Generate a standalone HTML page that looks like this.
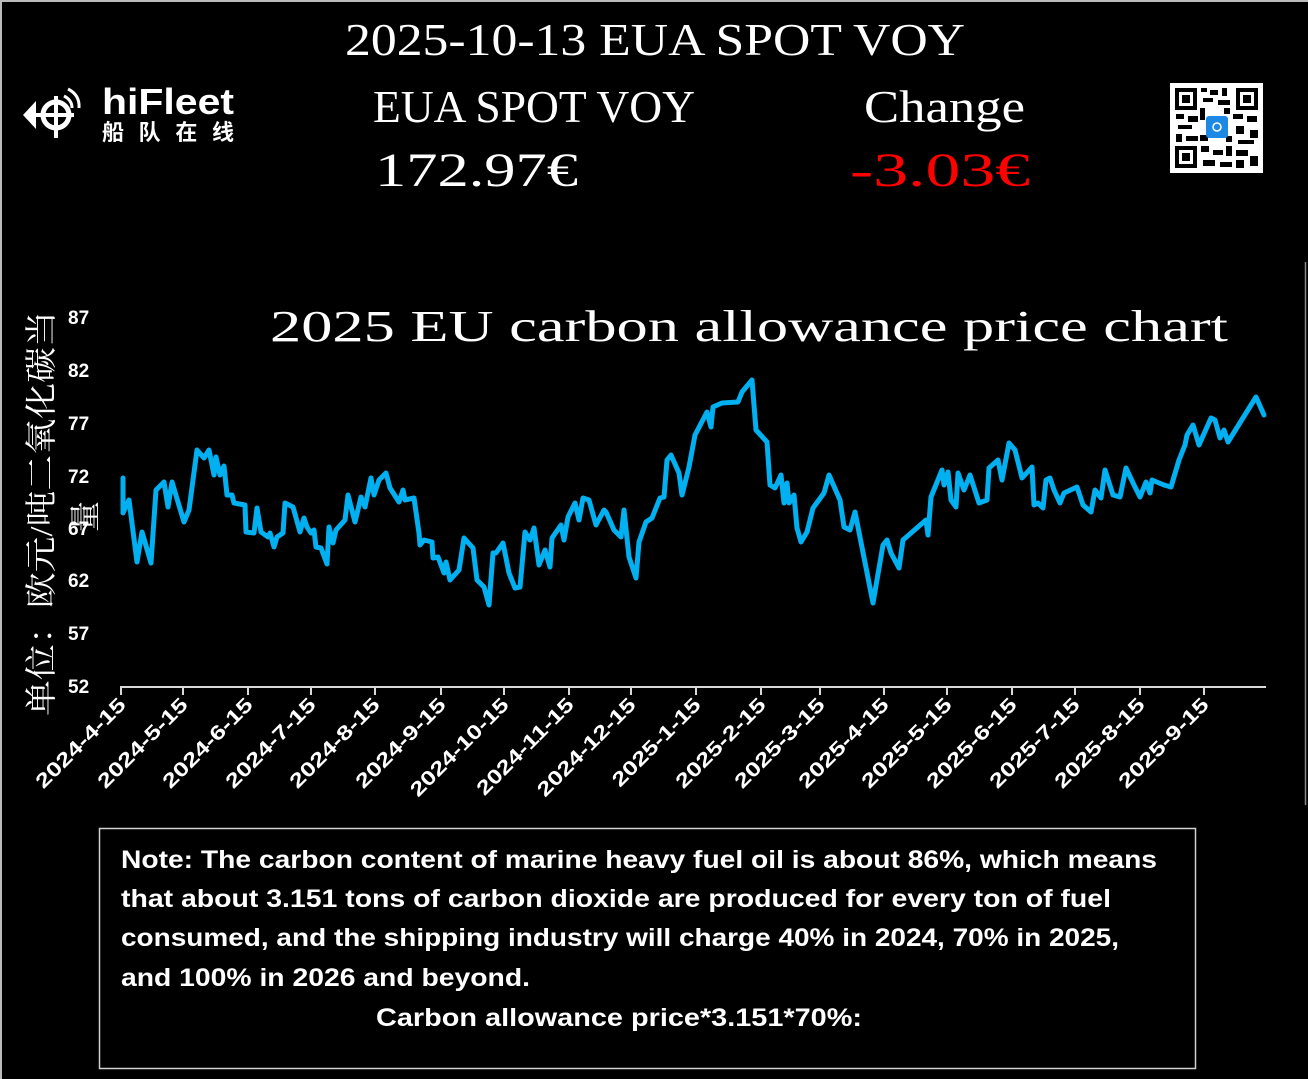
<!DOCTYPE html>
<html><head><meta charset="utf-8">
<style>
html,body{margin:0;padding:0;background:#000;}
svg{display:block;}
</style></head>
<body>
<svg width="1308" height="1079" viewBox="0 0 1308 1079" xmlns="http://www.w3.org/2000/svg">
<rect x="0" y="0" width="1308" height="1079" fill="#000"/>
<line x1="1" y1="0" x2="1" y2="1079" stroke="#bbb" stroke-width="2"/>
<line x1="0" y1="1" x2="1308" y2="1" stroke="#bbb" stroke-width="2"/>
<line x1="1305.5" y1="262" x2="1305.5" y2="805" stroke="#888" stroke-width="1.5"/>

<g font-family="'Liberation Serif','Noto Serif CJK SC',serif" fill="#fff">
<text x="345" y="55" font-size="46" textLength="620" lengthAdjust="spacingAndGlyphs">2025-10-13 EUA SPOT VOY</text>
<text x="373" y="122" font-size="46" textLength="322" lengthAdjust="spacingAndGlyphs">EUA SPOT VOY</text>
<text x="864" y="122" font-size="46" textLength="161" lengthAdjust="spacingAndGlyphs">Change</text>
<text x="375" y="186" font-size="48" textLength="203" lengthAdjust="spacingAndGlyphs">172.97€</text>
<text x="850" y="186" font-size="48" fill="#ff0000" textLength="180" lengthAdjust="spacingAndGlyphs">-3.03€</text>
<text x="270" y="341" font-size="44" textLength="958" lengthAdjust="spacingAndGlyphs">2025 EU carbon allowance price chart</text>
</g>

<g fill="#fff" stroke="#fff">
<circle cx="56" cy="115" r="13" fill="none" stroke-width="5"/>
<line x1="56" y1="96" x2="56" y2="138" stroke-width="4"/>
<line x1="36" y1="115" x2="74" y2="115" stroke-width="4"/>
<path d="M23 115 L36 101 L36 129 Z" stroke="none"/>
<path d="M64 96 Q72 100 72 108" fill="none" stroke-width="3"/>
<path d="M68 89 Q80 95 79 108" fill="none" stroke-width="3"/>
</g>
<text x="102" y="114" font-family="'Liberation Sans',sans-serif" font-weight="bold" font-size="36" fill="#fff" textLength="132" lengthAdjust="spacingAndGlyphs">hiFleet</text>
<text x="102" y="140" font-family="'Liberation Sans','Noto Sans CJK SC',sans-serif" font-weight="bold" font-size="22" fill="#fff" textLength="132" lengthAdjust="spacing">船队在线</text>

<rect x="1170" y="83" width="93" height="90" fill="#fff"/>
<g fill="#000">
<rect x="1175" y="88" width="22" height="22"/><rect x="1179" y="92" width="14" height="14" fill="#fff"/><rect x="1182" y="95" width="8" height="8"/>
<rect x="1236" y="88" width="22" height="22"/><rect x="1240" y="92" width="14" height="14" fill="#fff"/><rect x="1243" y="95" width="8" height="8"/>
<rect x="1175" y="146" width="22" height="22"/><rect x="1179" y="150" width="14" height="14" fill="#fff"/><rect x="1182" y="153" width="8" height="8"/>
<rect x="1201" y="88" width="6" height="4"/><rect x="1210" y="90" width="8" height="5"/><rect x="1222" y="88" width="5" height="8"/><rect x="1203" y="98" width="10" height="4"/><rect x="1218" y="100" width="12" height="5"/>
<rect x="1176" y="114" width="8" height="5"/><rect x="1188" y="116" width="10" height="6"/><rect x="1178" y="125" width="14" height="4"/><rect x="1176" y="134" width="6" height="8"/><rect x="1186" y="136" width="12" height="5"/>
<rect x="1233" y="114" width="10" height="5"/><rect x="1247" y="116" width="10" height="6"/><rect x="1236" y="126" width="8" height="8"/><rect x="1250" y="130" width="8" height="8"/><rect x="1238" y="140" width="16" height="4"/>
<rect x="1201" y="146" width="8" height="6"/><rect x="1213" y="150" width="10" height="5"/><rect x="1226" y="146" width="6" height="10"/><rect x="1236" y="150" width="12" height="6"/><rect x="1250" y="156" width="8" height="10"/><rect x="1203" y="160" width="12" height="6"/><rect x="1220" y="162" width="12" height="5"/><rect x="1236" y="160" width="8" height="8"/>
<rect x="1200" y="108" width="5" height="12"/><rect x="1224" y="108" width="6" height="6"/><rect x="1200" y="135" width="8" height="6"/><rect x="1226" y="136" width="6" height="6"/>
</g>
<rect x="1206" y="116" width="22" height="22" rx="3" fill="#1e88e5"/>
<circle cx="1217" cy="127" r="4" fill="none" stroke="#fff" stroke-width="1.5"/>

<text transform="translate(52,716) rotate(-90)" font-family="'Liberation Serif','Noto Serif CJK SC',serif" font-size="32" fill="#fff" textLength="405" lengthAdjust="spacingAndGlyphs">单位：欧元/吨二氧化碳当</text>
<text transform="translate(96,532) rotate(-90)" font-family="'Liberation Serif','Noto Serif CJK SC',serif" font-size="31" fill="#fff">量</text>

<g font-family="'Liberation Sans',sans-serif" font-weight="bold" font-size="19" fill="#fff">
<text x="68" y="324">87</text>
<text x="68" y="377">82</text>
<text x="68" y="430">77</text>
<text x="68" y="483">72</text>
<text x="68" y="535">67</text>
<text x="68" y="587">62</text>
<text x="68" y="640">57</text>
<text x="68" y="693">52</text>
</g>

<g stroke="#d9d9d9" stroke-width="2">
<line x1="120" y1="687" x2="1266" y2="687"/>
<line x1="121" y1="687" x2="121" y2="695"/><line x1="183" y1="687" x2="183" y2="695"/><line x1="248" y1="687" x2="248" y2="695"/><line x1="311" y1="687" x2="311" y2="695"/><line x1="375" y1="687" x2="375" y2="695"/><line x1="441" y1="687" x2="441" y2="695"/><line x1="504" y1="687" x2="504" y2="695"/><line x1="569" y1="687" x2="569" y2="695"/><line x1="631" y1="687" x2="631" y2="695"/><line x1="696" y1="687" x2="696" y2="695"/><line x1="761" y1="687" x2="761" y2="695"/><line x1="820" y1="687" x2="820" y2="695"/><line x1="884" y1="687" x2="884" y2="695"/><line x1="947" y1="687" x2="947" y2="695"/><line x1="1012" y1="687" x2="1012" y2="695"/><line x1="1075" y1="687" x2="1075" y2="695"/><line x1="1140" y1="687" x2="1140" y2="695"/><line x1="1204" y1="687" x2="1204" y2="695"/>
</g>
<g font-family="'Liberation Sans',sans-serif" font-weight="bold" font-size="20" fill="#fff" text-anchor="end">
<text transform="translate(127,706) rotate(-45)" textLength="118" lengthAdjust="spacingAndGlyphs">2024-4-15</text>
<text transform="translate(189,706) rotate(-45)" textLength="118" lengthAdjust="spacingAndGlyphs">2024-5-15</text>
<text transform="translate(254,706) rotate(-45)" textLength="118" lengthAdjust="spacingAndGlyphs">2024-6-15</text>
<text transform="translate(317,706) rotate(-45)" textLength="118" lengthAdjust="spacingAndGlyphs">2024-7-15</text>
<text transform="translate(381,706) rotate(-45)" textLength="118" lengthAdjust="spacingAndGlyphs">2024-8-15</text>
<text transform="translate(447,706) rotate(-45)" textLength="118" lengthAdjust="spacingAndGlyphs">2024-9-15</text>
<text transform="translate(510,706) rotate(-45)" textLength="130" lengthAdjust="spacingAndGlyphs">2024-10-15</text>
<text transform="translate(575,706) rotate(-45)" textLength="128" lengthAdjust="spacingAndGlyphs">2024-11-15</text>
<text transform="translate(637,706) rotate(-45)" textLength="130" lengthAdjust="spacingAndGlyphs">2024-12-15</text>
<text transform="translate(702,706) rotate(-45)" textLength="116" lengthAdjust="spacingAndGlyphs">2025-1-15</text>
<text transform="translate(767,706) rotate(-45)" textLength="118" lengthAdjust="spacingAndGlyphs">2025-2-15</text>
<text transform="translate(826,706) rotate(-45)" textLength="118" lengthAdjust="spacingAndGlyphs">2025-3-15</text>
<text transform="translate(890,706) rotate(-45)" textLength="118" lengthAdjust="spacingAndGlyphs">2025-4-15</text>
<text transform="translate(953,706) rotate(-45)" textLength="118" lengthAdjust="spacingAndGlyphs">2025-5-15</text>
<text transform="translate(1018,706) rotate(-45)" textLength="118" lengthAdjust="spacingAndGlyphs">2025-6-15</text>
<text transform="translate(1081,706) rotate(-45)" textLength="118" lengthAdjust="spacingAndGlyphs">2025-7-15</text>
<text transform="translate(1146,706) rotate(-45)" textLength="118" lengthAdjust="spacingAndGlyphs">2025-8-15</text>
<text transform="translate(1210,706) rotate(-45)" textLength="118" lengthAdjust="spacingAndGlyphs">2025-9-15</text>
</g>

<polyline fill="none" stroke="#00b0f0" stroke-width="5" stroke-linejoin="round" stroke-linecap="round" points="123,478 123,513 129,500 137,562 142,532 151,563 156,490 164,482 168,507 172,482 184,522 189,510 197,450 204,458 209,450 214,475 216,457 220,475 224,466 227,495 232,495 234,503 245,505 246,532 254,533 257,508 261,532 268,537 270,533 274,547 277,537 283,533 285,503 293,507 300,532 304,518 307,527 311,533 314,530 316,547 321,548 327,564 329,527 333,543 336,530 345,520 348,495 355,522 361,497 365,507 371,478 374,495 379,480 386,473 390,488 399,502 403,490 405,500 414,498 419,533 420,545 424,540 432,542 433,558 438,557 444,573 446,562 450,580 459,570 464,538 473,548 477,580 484,587 489,605 493,553 496,553 503,543 509,573 515,588 520,587 525,532 530,540 534,528 539,565 545,550 550,567 552,538 561,525 564,540 568,517 575,503 579,520 583,498 589,500 596,525 604,510 606,512 614,530 621,537 624,510 629,557 636,578 639,542 646,522 652,518 660,498 664,497 667,460 671,455 679,473 682,495 689,467 695,435 707,412 711,427 713,407 722,403 738,402 742,392 752,380 756,430 767,442 770,485 775,488 781,475 784,503 787,483 789,503 794,495 797,528 801,542 807,532 813,508 824,493 829,475 840,500 844,527 850,530 855,512 873,603 883,545 887,540 891,553 899,568 903,540 926,520 928,535 931,497 942,470 944,485 948,472 951,500 956,507 958,473 964,490 970,475 979,503 987,500 989,468 998,460 1002,480 1009,443 1015,450 1022,478 1032,467 1034,505 1038,503 1043,508 1046,480 1050,478 1054,490 1060,503 1064,493 1077,487 1083,505 1091,512 1095,490 1101,498 1105,470 1113,495 1120,497 1126,468 1134,485 1140,497 1146,482 1150,493 1152,480 1164,485 1171,487 1179,460 1185,445 1187,435 1193,425 1199,445 1211,418 1215,420 1220,438 1224,430 1228,442 1256,397 1264,415"/>

<rect x="99.5" y="828.5" width="1096" height="240" fill="none" stroke="#d0d0d0" stroke-width="1.5"/>
<g font-family="'Liberation Sans',sans-serif" font-weight="bold" font-size="25" fill="#fff">
<text x="121" y="868" textLength="1036" lengthAdjust="spacingAndGlyphs">Note: The carbon content of marine heavy fuel oil is about 86%, which means</text>
<text x="121" y="907" textLength="990" lengthAdjust="spacingAndGlyphs">that about 3.151 tons of carbon dioxide are produced for every ton of fuel</text>
<text x="121" y="946" textLength="998" lengthAdjust="spacingAndGlyphs">consumed, and the shipping industry will charge 40% in 2024, 70% in 2025,</text>
<text x="121" y="986" textLength="409" lengthAdjust="spacingAndGlyphs">and 100% in 2026 and beyond.</text>
<text x="376" y="1026" textLength="486" lengthAdjust="spacingAndGlyphs">Carbon allowance price*3.151*70%:</text>
</g>
</svg>
</body></html>
